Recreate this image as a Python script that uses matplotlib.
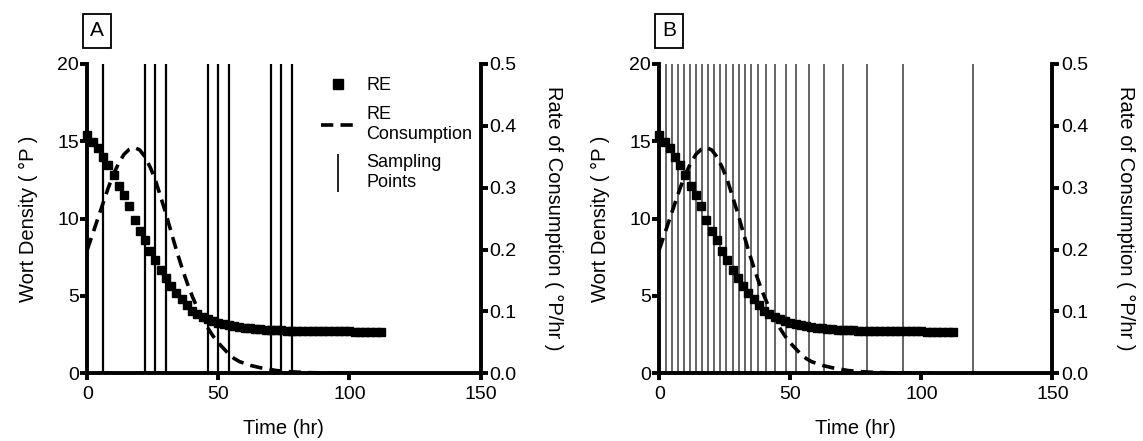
import matplotlib
matplotlib.use("Agg")
import matplotlib.pyplot as plt
from matplotlib.lines import Line2D

plt.rcParams['font.family'] = ['Liberation Sans', 'DejaVu Sans']
plt.rcParams['font.size'] = 14

# Residual extract (RE) measured every 2 hr
re_time = list(range(0, 114, 2))
re_value = [15.4, 14.95, 14.6, 14.0, 13.5, 12.8, 12.1, 11.5, 10.8, 9.9,
            9.2, 8.6, 7.9, 7.3, 6.7, 6.15, 5.65, 5.2, 4.8, 4.4,
            4.05, 3.85, 3.65, 3.48, 3.35, 3.25, 3.16, 3.1, 3.04, 2.98,
            2.94, 2.9, 2.87, 2.84, 2.82, 2.8, 2.78, 2.77, 2.76, 2.75,
            2.74, 2.74, 2.73, 2.73, 2.72, 2.72, 2.72, 2.71, 2.71, 2.71,
            2.71, 2.70, 2.70, 2.70, 2.70, 2.70, 2.70]

# Rate of RE consumption (°P/hr)
rate_time = [0, 2, 4, 6, 8, 10, 12, 14, 16, 18, 20, 22, 24, 26, 28, 30, 32,
             34, 36, 38, 40, 42, 44, 46, 48, 50, 52, 54, 56, 58, 60, 62, 64,
             66, 68, 70, 72, 74, 76, 78, 80, 84, 88, 92, 96, 100, 104]
rate_value = [0.200, 0.225, 0.250, 0.275, 0.300, 0.322, 0.340, 0.354, 0.362,
              0.365, 0.361, 0.350, 0.333, 0.312, 0.285, 0.258, 0.228, 0.199,
              0.172, 0.147, 0.125, 0.105, 0.088, 0.073, 0.060, 0.049, 0.040,
              0.031, 0.024, 0.019, 0.016, 0.013, 0.011, 0.009, 0.0075, 0.006,
              0.0045, 0.0037, 0.003, 0.0024, 0.0019, 0.0012, 0.0008, 0.0005,
              0.0003, 0.0002, 0.0001]

# Sampling schedules
sampling_a = [0, 6, 22, 26, 30, 46, 50, 54, 70, 74, 78]
sampling_b = [0, 2.5, 4.8, 7.1, 9.4, 11.7, 14.0, 16.3, 18.6, 21.0, 23.3, 25.6,
              28.0, 30.3, 32.6, 35.0, 37.5, 40.7, 44.3, 48.3, 52.3, 57.0, 62.9,
              69.9, 79.2, 92.8, 119.7]

left_ticks = [0, 5, 10, 15, 20]
right_ticks = [0.0, 0.1, 0.2, 0.3, 0.4, 0.5]
x_ticks = [0, 50, 100, 150]

fig = plt.figure(figsize=(11.43, 4.41), dpi=100)

SPINE_W = 2.8
TICK_KW = dict(width=SPINE_W, length=5, labelsize=14, pad=1)
DASH = (0, (3.4, 2.0))


def panel(left, label, samples, line_color, line_w, show_legend):
    ax = fig.add_axes([left, 0.1535, 0.3440, 0.7014])
    ax.set_xlim(0, 150)
    ax.set_ylim(0, 20)
    for s in ('top', 'right'):
        ax.spines[s].set_visible(False)
    for s in ('left', 'bottom'):
        ax.spines[s].set_linewidth(SPINE_W)
    ax.set_xticks(x_ticks)
    ax.set_yticks(left_ticks)
    ax.tick_params(**TICK_KW)
    ax.tick_params(axis='x', pad=4)
    ax.set_xlabel('Time (hr)', fontsize=14.5, labelpad=12)
    ax.set_ylabel('Wort Density ( °P )', fontsize=14.5, labelpad=14)

    ax.vlines(samples, 0, 20, colors=line_color, linewidth=line_w, zorder=1)
    ax.plot(re_time, re_value, linestyle='None', marker='s', color='black',
            markersize=5.2, clip_on=False, zorder=4)

    ax2 = ax.twinx()
    ax2.set_ylim(0, 0.5)
    ax2.set_yticks(right_ticks)
    ax2.set_yticklabels([f'{v:.1f}' for v in right_ticks])
    for s in ('top', 'left', 'bottom'):
        ax2.spines[s].set_visible(False)
    ax2.spines['right'].set_linewidth(SPINE_W)
    ax2.tick_params(**TICK_KW)
    ax2.set_ylabel('Rate of Consumption ( °P/hr )', fontsize=14.5,
                   rotation=270, labelpad=34)
    ax2.plot(rate_time, rate_value, color='black', linewidth=2.6,
             linestyle=DASH, zorder=3)

    fig.text(left + 0.0085, 0.93, label, fontsize=15, ha='center',
             va='center',
             bbox=dict(boxstyle='square,pad=0.35', fc='white', ec='black',
                       lw=1.3))

    if show_legend:
        handles = [
            Line2D([], [], linestyle='None', marker='s', color='black',
                   markersize=6.5),
            Line2D([], [], color='black', linewidth=2.6, linestyle=DASH),
            Line2D([], [], linestyle='None', marker='|', color='black',
                   markersize=28, markeredgewidth=1.2),
        ]
        labels = ['RE', 'RE\nConsumption', 'Sampling\nPoints']
        ax2.legend(handles, labels, loc='upper left',
                   bbox_to_anchor=(0.595, 0.957), frameon=False,
                   borderpad=0, borderaxespad=0, handlelength=1.9,
                   handletextpad=0.6, labelspacing=0.65, fontsize=13)
    return ax


panel(0.0764, 'A', sampling_a, 'black', 1.6, True)
panel(0.5768, 'B', sampling_b, '#3a3a3a', 1.1, False)

fig.savefig('out.png', dpi=100)
